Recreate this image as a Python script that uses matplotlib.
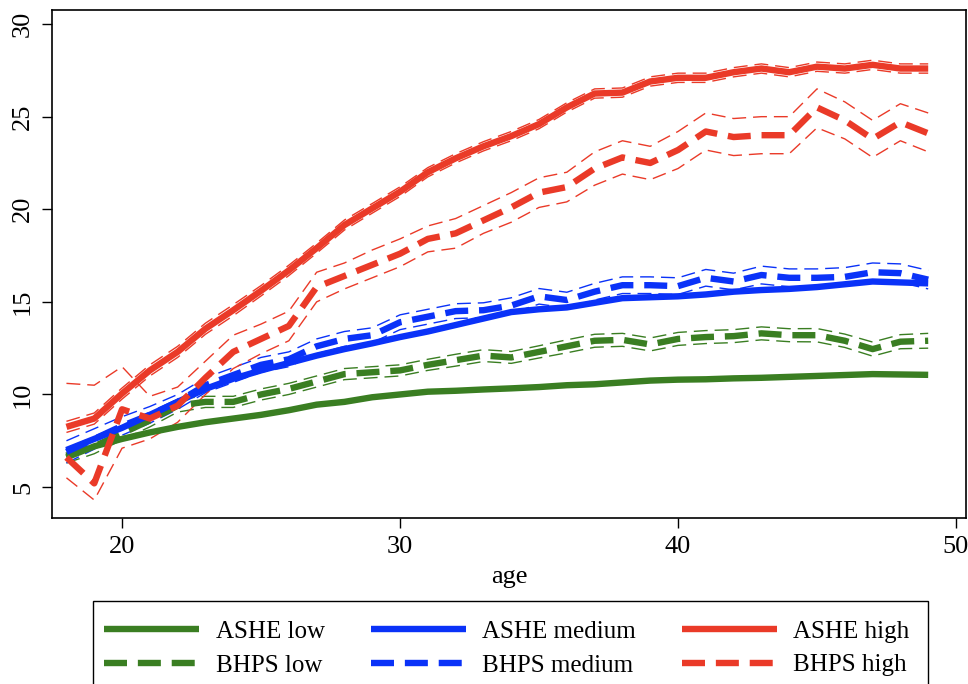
import matplotlib
matplotlib.use("Agg")
from matplotlib import pyplot as plt
from matplotlib.patches import Rectangle
import numpy as np

plt.rcParams['font.family'] = ['Liberation Serif', 'DejaVu Serif']

ages = list(range(18, 50))

ashe_low = [6.6, 7.2, 7.6, 7.95, 8.25, 8.5, 8.7, 8.9, 9.15, 9.45, 9.6, 9.85, 10.0, 10.15, 10.2, 10.27,
            10.33, 10.4, 10.5, 10.55, 10.65, 10.75, 10.8, 10.82, 10.87, 10.9, 10.95, 11.0, 11.05, 11.1, 11.08, 11.06]
ashe_med = [7.0, 7.6, 8.2, 8.9, 9.6, 10.3, 10.85, 11.3, 11.7, 12.1, 12.45, 12.76, 13.1, 13.4, 13.75, 14.1,
            14.45, 14.6, 14.7, 14.95, 15.2, 15.25, 15.3, 15.4, 15.55, 15.64, 15.7, 15.8, 15.95, 16.1, 16.05, 16.0]
ashe_high = [8.25, 8.7, 10.05, 11.3, 12.3, 13.55, 14.55, 15.6, 16.7, 17.9, 19.15, 20.05, 20.95, 22.0, 22.75, 23.4,
             23.95, 24.6, 25.5, 26.25, 26.3, 26.9, 27.1, 27.1, 27.4, 27.6, 27.4, 27.7, 27.6, 27.8, 27.6, 27.6]
ashe_high_hw = [0.3, 0.3, 0.3, 0.3, 0.3, 0.3, 0.3, 0.28, 0.28, 0.27, 0.27, 0.26, 0.26, 0.25, 0.25, 0.25,
                0.25, 0.25, 0.25, 0.25, 0.25, 0.25, 0.25, 0.25, 0.25, 0.25, 0.25, 0.25, 0.25, 0.25, 0.25, 0.25]

bhps_low = [6.7, 7.2, 7.9, 8.6, 9.4, 9.6, 9.6, 10.0, 10.3, 10.7, 11.1, 11.2, 11.3, 11.6, 11.85, 12.1,
            12.0, 12.3, 12.6, 12.9, 12.95, 12.7, 13.0, 13.1, 13.15, 13.3, 13.2, 13.2, 12.9, 12.45, 12.85, 12.9]
bhps_low_hw = [0.4, 0.4, 0.35, 0.35, 0.35, 0.3, 0.3, 0.3, 0.3, 0.3, 0.3, 0.3, 0.3, 0.3, 0.32, 0.32,
               0.32, 0.33, 0.35, 0.35, 0.35, 0.35, 0.35, 0.35, 0.35, 0.35, 0.35, 0.36, 0.36, 0.38, 0.38, 0.4]
bhps_med = [6.9, 7.6, 8.3, 8.9, 9.6, 10.5, 11.05, 11.6, 11.9, 12.6, 13.0, 13.2, 13.9, 14.2, 14.5, 14.55,
            14.8, 15.3, 15.1, 15.55, 15.9, 15.9, 15.85, 16.3, 16.1, 16.45, 16.3, 16.3, 16.35, 16.6, 16.55, 16.2]
bhps_med_hw = [0.6, 0.55, 0.5, 0.45, 0.4, 0.4, 0.4, 0.4, 0.4, 0.4, 0.4, 0.4, 0.4, 0.4, 0.4, 0.4,
               0.42, 0.42, 0.42, 0.45, 0.45, 0.45, 0.45, 0.45, 0.45, 0.48, 0.48, 0.48, 0.5, 0.5, 0.5, 0.5]
bhps_high = [6.6, 5.2, 9.2, 8.7, 9.4, 10.9, 12.3, 13.0, 13.7, 15.8, 16.4, 17.0, 17.6, 18.4, 18.7, 19.4,
             20.1, 20.9, 21.2, 22.2, 22.8, 22.5, 23.2, 24.2, 23.9, 24.0, 24.0, 25.5, 24.8, 23.8, 24.7, 24.1]
bhps_high_lo = [5.5, 4.3, 7.1, 7.6, 8.5, 10.0, 11.4, 12.2, 12.9, 15.0, 15.7, 16.3, 16.9, 17.7, 17.9, 18.7,
                19.3, 20.1, 20.4, 21.3, 21.9, 21.6, 22.2, 23.2, 22.9, 23.0, 23.0, 24.4, 23.8, 22.8, 23.7, 23.1]
bhps_high_hi = [10.6, 10.5, 11.5, 9.9, 10.4, 11.8, 13.2, 13.8, 14.5, 16.6, 17.1, 17.8, 18.4, 19.1, 19.5, 20.2,
                20.9, 21.7, 22.0, 23.1, 23.7, 23.4, 24.2, 25.2, 24.9, 25.0, 25.0, 26.5, 25.8, 24.8, 25.7, 25.2]

green = '#3a7e22'
blue = '#0a32f8'
red = '#ea3a28'

thick = 4.6
thin = 1.0
dash_thick = (0, (3.6, 1.7))
dash_thin = (0, (10, 5))

fig = plt.figure(figsize=(9.68, 6.84), dpi=100)
ax = fig.add_axes([52 / 968, 1 - 518 / 684, 914 / 968, 508 / 684])

a = np.array(ages)

# confidence bands (thin dashed)
ax.plot(a, np.array(ashe_high) - np.array(ashe_high_hw), color=red, lw=thin, ls=dash_thin)
ax.plot(a, np.array(ashe_high) + np.array(ashe_high_hw), color=red, lw=thin, ls=dash_thin)
ax.plot(a, np.array(bhps_low) - np.array(bhps_low_hw), color=green, lw=thin, ls=dash_thin)
ax.plot(a, np.array(bhps_low) + np.array(bhps_low_hw), color=green, lw=thin, ls=dash_thin)
ax.plot(a, np.array(bhps_med) - np.array(bhps_med_hw), color=blue, lw=thin, ls=dash_thin)
ax.plot(a, np.array(bhps_med) + np.array(bhps_med_hw), color=blue, lw=thin, ls=dash_thin)
ax.plot(a, bhps_high_lo, color=red, lw=thin, ls=dash_thin)
ax.plot(a, bhps_high_hi, color=red, lw=thin, ls=dash_thin)

h1, = ax.plot(a, ashe_low, color=green, lw=thick, solid_capstyle='butt', label='ASHE low')
h2, = ax.plot(a, bhps_low, color=green, lw=thick, ls=dash_thick, dash_capstyle='butt', label='BHPS low')
h3, = ax.plot(a, ashe_med, color=blue, lw=thick, solid_capstyle='butt', label='ASHE medium')
h4, = ax.plot(a, bhps_med, color=blue, lw=thick, ls=dash_thick, dash_capstyle='butt', label='BHPS medium')
h5, = ax.plot(a, ashe_high, color=red, lw=thick, solid_capstyle='butt', label='ASHE high')
h6, = ax.plot(a, bhps_high, color=red, lw=thick, ls=dash_thick, dash_capstyle='butt', label='BHPS high')

ax.set_xlim(17.48, 50.36)
ax.set_ylim(3.33, 30.76)
ax.set_xticks([20, 30, 40, 50])
ax.set_yticks([5, 10, 15, 20, 25, 30])
ax.tick_params(direction='out', length=7, width=1, labelsize=19, colors='black', pad=6)
plt.setp(ax.get_yticklabels(), rotation=90, va='center')
for s in ax.spines.values():
    s.set_linewidth(1.2)
ax.set_xlabel('age', fontsize=19, labelpad=6)

leg = fig.legend(handles=[h1, h2, h3, h4, h5, h6], ncol=3, loc='upper left',
                 bbox_to_anchor=(93 / 968, 1 - 609 / 684),
                 fontsize=18, frameon=False,
                 handlelength=3.8, handletextpad=0.65, columnspacing=1.85, labelspacing=0.45,
                 borderpad=0.45, borderaxespad=0)
# legend box, its bottom edge runs off the figure as in the original
fig.patches.append(Rectangle((93 / 968, -0.05), 835 / 968, (1 - 601 / 684) + 0.05,
                             transform=fig.transFigure, fill=False, edgecolor='black', lw=1.0))

fig.savefig('out.png', dpi=100)
